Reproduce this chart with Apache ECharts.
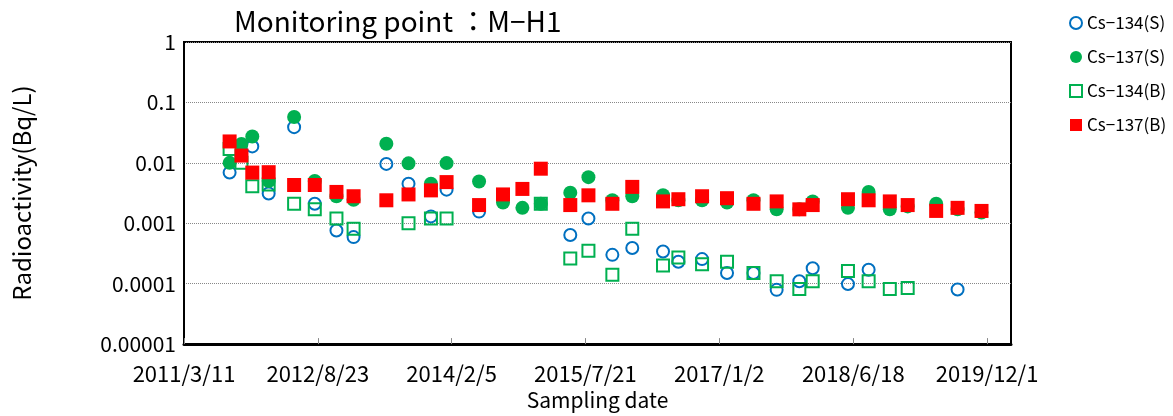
<!DOCTYPE html>
<html>
<head>
<meta charset="utf-8">
<script src="https://cdn.jsdelivr.net/npm/echarts@6/dist/echarts.min.js"></script>
<style>
html,body{margin:0;padding:0;background:#fff;}
#chart{width:1173px;height:416px;}
</style>
</head>
<body>
<div id="chart"></div>
<script>
const titleText = 'Monitoring point \uFF1AM\u2212H1';
const seriesNames = ['Cs\u2212134(S)', 'Cs\u2212137(S)', 'Cs\u2212134(B)', 'Cs\u2212137(B)'];
const xTickLabels = ['2011/3/11', '2012/8/23', '2014/2/5', '2015/7/21', '2017/1/2', '2018/6/18', '2019/12/1'];
const yTickLabels = ['0.00001', '0.0001', '0.001', '0.01', '0.1', '1'];
const axisStart = '2011/3/11';
const axisEnd = '2020/3/5';

const dates = ['2011/9/8','2011/10/25','2011/12/7','2012/2/10','2012/5/21','2012/8/11','2012/11/5','2013/1/12','2013/5/22','2013/8/18','2013/11/15','2014/1/16','2014/5/25','2014/8/28','2014/11/13','2015/1/25','2015/5/22','2015/8/2','2015/11/5','2016/1/23','2016/5/24','2016/7/24','2016/10/26','2017/2/2','2017/5/18','2017/8/18','2017/11/16','2018/1/8','2018/5/28','2018/8/18','2018/11/10','2019/1/20','2019/5/13','2019/8/6','2019/11/9'];

const cs134S = [0.0069,null,0.0187,0.0031,0.039,0.0021,0.00076,0.00059,0.0096,0.0045,0.0013,0.0036,0.00156,null,null,null,0.00064,0.0012,0.0003,0.00039,0.00034,0.00023,0.000255,0.00015,0.00015,0.000079,0.00011,0.00018,0.0000985,0.00017,null,null,null,0.00008,null];
const cs137S = [0.01,0.0205,0.0273,0.005,0.0574,0.005,0.0028,0.00245,0.0207,0.0098,0.0045,0.0099,0.0049,0.0022,0.0018,0.0021,0.0032,0.0058,0.0024,0.0028,0.0029,0.0024,0.0024,0.0022,0.0024,0.0017,0.0017,0.0023,0.0018,0.0033,0.0017,0.0019,0.0021,0.0017,0.0015];
const cs134B = [0.017,0.01,0.0041,0.0044,0.0021,0.0017,0.0012,0.00081,null,0.001,0.0012,0.0012,null,null,null,0.0021,0.00026,0.00035,0.00014,0.00081,0.0002,0.00027,0.00021,0.00023,0.00015,0.00011,0.000082,0.00011,0.000162,0.00011,0.000082,0.000085,null,null,null];
const cs137B = [0.0226,0.0132,0.0069,0.007,0.0043,0.0043,0.0033,0.0028,0.0024,0.003,0.0035,0.0048,0.002,0.003,0.0037,0.008,0.002,0.0029,0.0021,0.004,0.0023,0.0025,0.0028,0.0026,0.0021,0.0023,0.0017,0.002,0.0025,0.0024,0.0023,0.002,0.0016,0.0018,0.0016];

function dayOf(s) {
  const p = s.split('/').map(Number);
  const a = axisStart.split('/').map(Number);
  return Math.round((Date.UTC(p[0], p[1] - 1, p[2]) - Date.UTC(a[0], a[1] - 1, a[2])) / 864e5);
}
function pairs(vals) {
  const out = [];
  vals.forEach((v, i) => { if (v != null) out.push([dayOf(dates[i]), v]); });
  return out;
}
const xTickDays = xTickLabels.map(dayOf);
const FONT = '"Noto Sans CJK JP", "Noto Sans", sans-serif';

const chart = echarts.init(document.getElementById('chart'), null, {renderer: 'canvas'});
chart.setOption({
  animation: false,
  backgroundColor: '#fff',
  title: {
    text: titleText, left: 229, top: 2,
    textStyle: {fontFamily: FONT, fontSize: 28, fontWeight: 'normal', color: '#000'}
  },
  legend: {
    orient: 'vertical', left: 1064, top: 9, itemGap: 16, itemWidth: 12, itemHeight: 12,
    textStyle: {fontFamily: FONT, fontSize: 17, color: '#000', lineHeight: 18},
    data: seriesNames
  },
  grid: {left: 184, right: 162, top: 42, bottom: 70, show: true, borderColor: '#000', borderWidth: 2, backgroundColor: 'transparent'},
  xAxis: {
    type: 'value', min: 0, max: dayOf(axisEnd),
    name: 'Sampling date', nameLocation: 'middle', nameGap: 45,
    nameTextStyle: {fontFamily: FONT, fontSize: 21, color: '#000'},
    axisLine: {show: true, lineStyle: {color: '#000', width: 3}},
    axisTick: {show: true, inside: true, length: 6, customValues: xTickDays, lineStyle: {color: '#888', width: 1}},
    axisLabel: {
      customValues: xTickDays, margin: 19,
      fontFamily: FONT, fontSize: 22, color: '#000',
      formatter: v => { const i = xTickDays.indexOf(Math.round(v)); return i >= 0 ? xTickLabels[i] : ''; }
    },
    splitLine: {show: false}
  },
  yAxis: {
    type: 'log', logBase: 10, min: 0.00001, max: 1,
    name: 'Radioactivity(Bq/L)', nameLocation: 'middle', nameGap: 150, nameRotate: 90,
    nameTextStyle: {fontFamily: FONT, fontSize: 24, color: '#000'},
    axisLine: {show: true, lineStyle: {color: '#000', width: 2}},
    axisTick: {show: false},
    axisLabel: {
      margin: 8, fontFamily: FONT, fontSize: 21, color: '#000',
      formatter: v => { const k = Math.round(Math.log10(v)) + 5; return yTickLabels[k] || ''; }
    },
    splitLine: {show: true, lineStyle: {color: '#888', type: 'dotted', width: 1}}
  },
  series: [
    {name: seriesNames[0], type: 'scatter', symbol: 'circle', symbolSize: 12, data: pairs(cs134S),
     itemStyle: {color: 'rgba(255,255,255,0)', borderColor: '#0070C0', borderWidth: 2, opacity: 1}},
    {name: seriesNames[1], type: 'scatter', symbol: 'circle', symbolSize: 14, data: pairs(cs137S),
     itemStyle: {color: '#00B050', opacity: 1}},
    {name: seriesNames[2], type: 'scatter', symbol: 'rect', symbolSize: 12, data: pairs(cs134B),
     itemStyle: {color: 'rgba(255,255,255,0)', borderColor: '#00B050', borderWidth: 2, opacity: 1}},
    {name: seriesNames[3], type: 'scatter', symbol: 'rect', symbolSize: 14, data: pairs(cs137B),
     itemStyle: {color: '#FF0000', opacity: 1}}
  ]
});
</script>
</body>
</html>
